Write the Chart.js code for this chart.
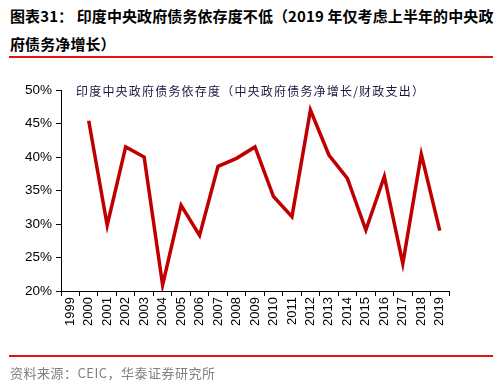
<!DOCTYPE html>
<html lang="zh">
<head>
<meta charset="UTF-8" />
<title>印度中央政府债务依存度</title>
<script src="https://cdn.jsdelivr.net/npm/chart.js"></script>
<style>
  body { margin: 0; width: 498px; height: 388px; background: #fff; position: relative; overflow: hidden;
         font-family: "Noto Sans CJK SC", "Liberation Sans", sans-serif; }
  .title { position: absolute; left: 10px; top: 2px; width: 490px; font-size: 15px; font-weight: bold;
           line-height: 28px; letter-spacing: 0.1px; color: #000; white-space: nowrap; }
  .rule { position: absolute; left: 9px; width: 484px; height: 2px; background: #e3140f; }
  .source { position: absolute; left: 10px; top: 363px; font-size: 13px; color: #808080; letter-spacing: 0.5px; }
  .chart-wrapper { position: absolute; left: 0; top: 60px; width: 498px; height: 296px; }
</style>
</head>
<body>

<div class="title">图表31：&nbsp;印度中央政府债务依存度不低（2019 年仅考虑上半年的中央政<br>府债务净增长）</div>
<div class="rule" style="top:56px"></div>

<div class="chart-wrapper">
  <canvas id="chartDebt"></canvas>
</div>

<div class="rule" style="top:355px"></div>
<div class="source">资料来源：CEIC，华泰证券研究所</div>

<script>
  const years = ['1999', '2000', '2001', '2002', '2003', '2004', '2005', '2006', '2007', '2008', '2009',
                 '2010', '2011', '2012', '2013', '2014', '2015', '2016', '2017', '2018', '2019'];
  // 1999 没有数据
  const dependency = [null, 45.4, 29.8, 41.5, 40.0, 20.9, 32.8, 28.3, 38.6, 39.8, 41.5,
                      34.1, 31.1, 47.0, 40.3, 36.8, 29.1, 37.1, 24.1, 40.4, 29.0];
  const seriesName = '印度中央政府债务依存度（中央政府债务净增长/财政支出）';

  // 图例只是一行文字，直接画在图里
  const legendText = {
    id: 'legendText',
    afterDraw(chart) {
      const ctx = chart.ctx;
      ctx.save();
      ctx.font = '12px "Noto Sans CJK SC"';
      ctx.fillStyle = '#1a1a40';
      ctx.textBaseline = 'middle';
      if ('letterSpacing' in ctx) ctx.letterSpacing = '1.2px';
      ctx.fillText(seriesName, 76, 31);
      ctx.restore();
    }
  };

  const ctx = document.getElementById('chartDebt').getContext('2d');
  new Chart(ctx, {
    type: 'line',
    data: {
      labels: years,
      datasets: [{
        label: seriesName,
        data: dependency,
        borderColor: '#c00000',
        borderWidth: 3.5,
        tension: 0,
        pointRadius: 0,
        fill: false
      }]
    },
    options: {
      responsive: true,
      maintainAspectRatio: false,
      animation: false,
      layout: { padding: { top: 30, right: 49, left: 0, bottom: 0 } },
      plugins: {
        legend: { display: false },
        tooltip: { enabled: false }
      },
      scales: {
        x: {
          offset: true,
          grid: { display: true, drawOnChartArea: false, offset: true, color: '#000', tickLength: 5, tickColor: '#000' },
          border: { color: '#000', width: 1 },
          ticks: {
            color: '#000', minRotation: 90, maxRotation: 90, autoSkip: false, padding: 1,
            font: { family: 'Liberation Sans', size: 13 }
          },
          afterFit: scale => { scale.height = 65; }
        },
        y: {
          min: 20, max: 50,
          grid: { display: true, drawOnChartArea: false, color: '#000', tickLength: 5, tickColor: '#000' },
          border: { color: '#000', width: 1 },
          ticks: {
            stepSize: 5, color: '#000', padding: 4,
            font: { family: 'Liberation Sans', size: 13.5 },
            callback: v => v + '%'
          },
          afterFit: scale => { scale.width = 61; }
        }
      }
    },
    plugins: [legendText]
  });
</script>
</body>
</html>
